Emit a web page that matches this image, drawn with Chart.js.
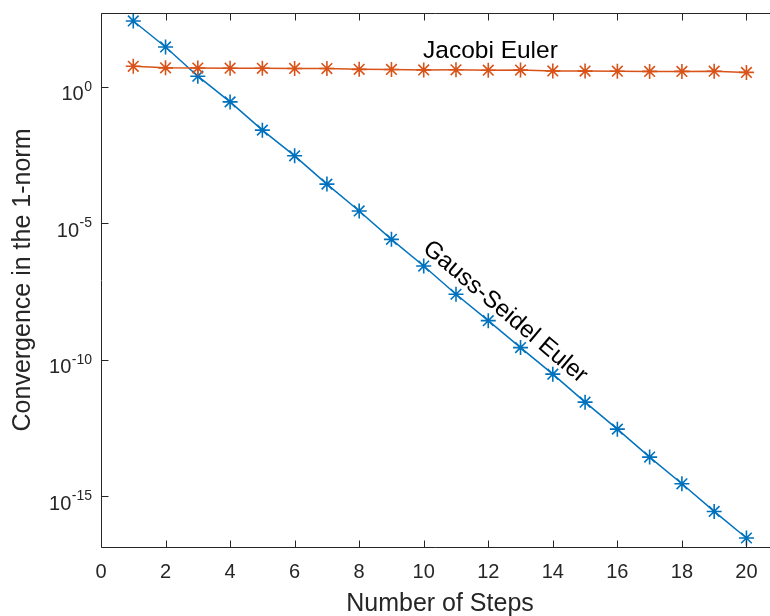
<!DOCTYPE html>
<html>
<head>
<meta charset="utf-8">
<script src="https://cdn.jsdelivr.net/npm/chart.js@4"></script>
<style>
  html, body { margin: 0; padding: 0; background: #fff; overflow: hidden; }
  #wrap { width: 770px; height: 616px; }
</style>
</head>
<body>
<div id="wrap"><canvas id="conv" width="770" height="616"></canvas></div>
<script>
// number of steps on the x axis
const steps = [1, 2, 3, 4, 5, 6, 7, 8, 9, 10, 11, 12, 13, 14, 15, 16, 17, 18, 19, 20];

// convergence in the 1-norm
const gaussSeidel = [260, 29, 2.47, 0.283, 0.0261, 0.00299, 2.75e-4, 2.85e-5, 2.61e-6, 2.75e-7,
  2.54e-8, 2.74e-9, 2.82e-10, 3.0e-11, 2.83e-12, 2.91e-13, 2.75e-14, 2.9e-15, 2.81e-16, 2.99e-17];
const jacobi = [5.7, 5.0, 4.9, 4.85, 4.8, 4.75, 4.7, 4.4, 4.35, 4.2,
  4.25, 4.1, 4.15, 3.85, 3.8, 3.75, 3.7, 3.7, 3.75, 3.4];

const xTicks = [0, 2, 4, 6, 8, 10, 12, 14, 16, 18, 20];
const yTicks = [1, 1e-5, 1e-10, 1e-15];
const yTickExp = ['0', '-5', '-10', '-15'];

const BLUE = '#0072BD';
const ORANGE = '#D95319';
const AXIS = '#262626';
const FONT = '"Liberation Sans", Arial, Helvetica, sans-serif';

const toPoints = (ys) => steps.map((s, i) => ({ x: s, y: ys[i] }));

// axes box, inward ticks, labels and the two text annotations
const matlabAxes = {
  id: 'matlabAxes',
  afterDraw(chart) {
    const { ctx, chartArea: a, scales: { x, y } } = chart;
    const L = Math.round(a.left) + 0.5, R = a.right;
    const T = Math.round(a.top) + 0.5, B = Math.round(a.bottom) + 0.5;
    ctx.save();
    ctx.strokeStyle = AXIS;
    ctx.lineWidth = 1;
    ctx.beginPath();
    ctx.moveTo(L, T); ctx.lineTo(R, T);
    ctx.moveTo(L, T); ctx.lineTo(L, B);
    ctx.moveTo(L, B); ctx.lineTo(R, B);
    xTicks.forEach(v => {
      const px = Math.round(x.getPixelForValue(v)) + 0.5;
      ctx.moveTo(px, B); ctx.lineTo(px, B - 7);
      ctx.moveTo(px, T); ctx.lineTo(px, T + 7);
    });
    yTicks.forEach(v => {
      const py = Math.round(y.getPixelForValue(v)) + 0.5;
      ctx.moveTo(L, py); ctx.lineTo(L + 7, py);
    });
    ctx.stroke();

    ctx.fillStyle = AXIS;
    ctx.font = '20px ' + FONT;
    ctx.textAlign = 'center';
    ctx.textBaseline = 'alphabetic';
    xTicks.forEach(v => ctx.fillText(String(v), x.getPixelForValue(v), 578));

    // y labels 10^n with a raised exponent
    yTicks.forEach((v, i) => {
      const py = y.getPixelForValue(v);
      ctx.font = '14px ' + FONT;
      const ew = ctx.measureText(yTickExp[i]).width;
      ctx.textAlign = 'right';
      ctx.fillText(yTickExp[i], 92, py + 4);
      ctx.font = '20px ' + FONT;
      ctx.fillText('10', 92 - ew - 0.5, py + 13.5);
    });

    ctx.font = '25px ' + FONT;
    ctx.textAlign = 'center';
    ctx.fillText('Number of Steps', 440, 611);
    ctx.save();
    ctx.translate(30, (a.top + a.bottom) / 2);
    ctx.rotate(-Math.PI / 2);
    ctx.fillText('Convergence in the 1-norm', 0, 0);
    ctx.restore();

    ctx.fillStyle = '#000';
    ctx.font = '24.5px ' + FONT;
    ctx.textAlign = 'left';
    ctx.fillText('Jacobi Euler', 423, 58);

    // label follows the slope of the Gauss-Seidel line
    const p1 = { x: x.getPixelForValue(1), y: y.getPixelForValue(gaussSeidel[0]) };
    const p2 = { x: x.getPixelForValue(20), y: y.getPixelForValue(gaussSeidel[19]) };
    ctx.save();
    ctx.translate(505, 312);
    ctx.rotate(Math.atan2(p2.y - p1.y, p2.x - p1.x));
    ctx.textAlign = 'center';
    ctx.textBaseline = 'middle';
    ctx.font = '24px ' + FONT;
    ctx.fillText('Gauss-Seidel Euler', 0, 0);
    ctx.restore();
    ctx.restore();
  }
};

new Chart(document.getElementById('conv'), {
  type: 'line',
  data: {
    datasets: [
      {
        label: 'Jacobi Euler',
        data: toPoints(jacobi),
        borderColor: ORANGE,
        backgroundColor: ORANGE,
        borderWidth: 1.5,
        pointStyle: 'star',
        pointRadius: 7.5,
        pointBorderWidth: 1.6,
        pointBorderColor: ORANGE,
        tension: 0,
        fill: false
      },
      {
        label: 'Gauss-Seidel Euler',
        data: toPoints(gaussSeidel),
        borderColor: BLUE,
        backgroundColor: BLUE,
        borderWidth: 1.5,
        pointStyle: 'star',
        pointRadius: 7.5,
        pointBorderWidth: 1.6,
        pointBorderColor: BLUE,
        tension: 0,
        fill: false
      }
    ]
  },
  options: {
    responsive: false,
    animation: false,
    clip: false,
    layout: { autoPadding: false, padding: { left: 101, top: 13, right: 0, bottom: 69 } },
    plugins: { legend: { display: false }, tooltip: { enabled: false } },
    scales: {
      x: { type: 'linear', min: 0, max: 20.73, display: false },
      y: { type: 'logarithmic', min: 1.4e-17, max: 510, display: false }
    }
  },
  plugins: [matlabAxes]
});
</script>
</body>
</html>
